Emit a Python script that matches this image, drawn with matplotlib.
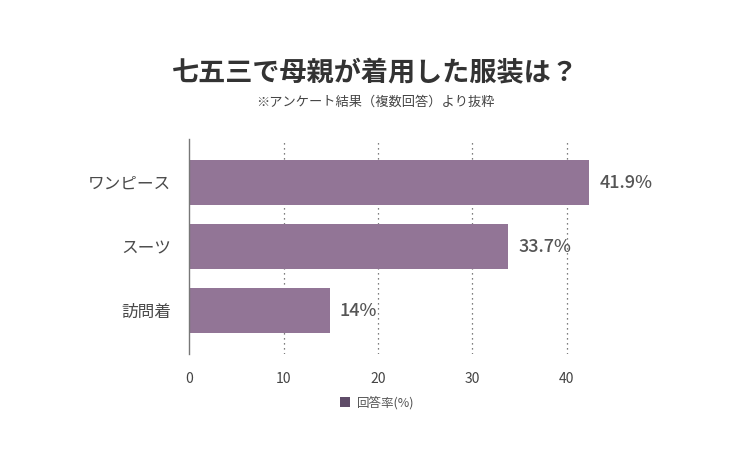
import matplotlib
matplotlib.use("Agg")
import matplotlib.pyplot as plt
from matplotlib.patches import Patch

plt.rcParams['font.family'] = ['Noto Sans CJK JP', 'DejaVu Sans']

categories = ["ワンピース", "スーツ", "訪問着"]
values = [42.4, 33.8, 14.9]
value_labels = ["41.9%", "33.7%", "14%"]
xticks = [0, 10, 20, 30, 40]
title = "七五三で母親が着用した服装は？"
subtitle = "※アンケート結果（複数回答）より抜粋"
legend_label = "回答率(%)"

bar_color = "#927596"
legend_color = "#5f4c68"

fig = plt.figure(figsize=(7.5, 4.5), dpi=100)
ax = fig.add_axes([0.2524, 0.2133, 0.566, 0.4778])

ypos = list(range(len(categories)))
ax.barh(ypos, values, height=0.7, color=bar_color, zorder=2)
ax.set_ylim(len(categories) - 1 + 0.68, -0.68)
ax.set_xlim(0, 45)

for y, v, lab in zip(ypos, values, value_labels):
    ax.text(v + 1.05, y, lab, va='center', ha='left', fontsize=13,
            fontweight='medium', color='#555555')

ax.set_yticks(ypos)
ax.set_yticklabels(categories, fontsize=12, color='#4a4a4a')
ax.set_xticks(xticks)
ax.set_xticklabels([str(t) for t in xticks], fontsize=10, color='#444444')
ax.tick_params(axis='both', length=0)
ax.tick_params(axis='y', pad=13)
ax.tick_params(axis='x', pad=13)

for t in xticks[1:]:
    ax.axvline(t, color='#555555', linestyle=(0, (1, 3)), linewidth=0.9, zorder=1)

for s in ['top', 'right', 'bottom']:
    ax.spines[s].set_visible(False)
ax.spines['left'].set_color('#777777')
ax.spines['left'].set_linewidth(1.0)
ax.spines['left'].set_zorder(3)

fig.text(0.5, 0.837, title, ha='center', va='center', fontsize=19.5,
         fontweight='bold', color='#333333')
fig.text(0.5, 0.773, subtitle, ha='center', va='center', fontsize=9.5,
         color='#444444')

fig.legend(handles=[Patch(facecolor=legend_color, label=legend_label)],
           loc='center', bbox_to_anchor=(0.503, 0.105), frameon=False,
           fontsize=9, handlelength=0.8, handleheight=0.8, handletextpad=0.5,
           labelcolor='#555555')

fig.savefig("out.png", dpi=100, facecolor='white')
